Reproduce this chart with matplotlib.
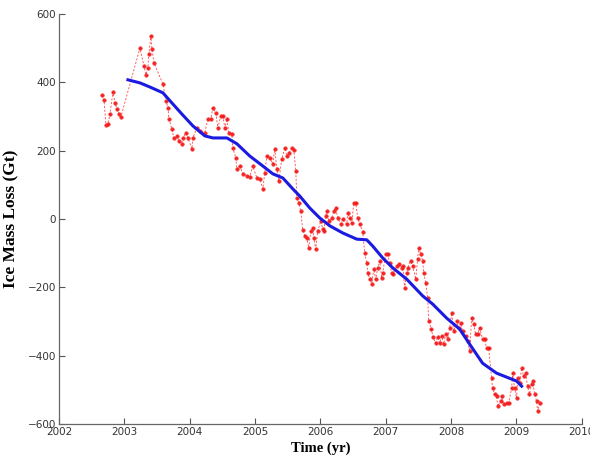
import matplotlib
matplotlib.use("Agg")
import matplotlib.pyplot as plt

# Monthly/10-day mass anomaly estimates (year, Gt)
obs_year = [
    2002.657, 2002.688, 2002.719, 2002.749, 2002.780, 2002.826, 2002.856, 2002.887, 2002.917, 2002.948,
    2003.239, 2003.300, 2003.330, 2003.360, 2003.376, 2003.407, 2003.422, 2003.453, 2003.590, 2003.636,
    2003.667, 2003.682, 2003.728, 2003.758, 2003.804, 2003.835, 2003.881, 2003.896, 2003.942, 2003.972,
    2004.034, 2004.049, 2004.110, 2004.156, 2004.232, 2004.278, 2004.324, 2004.355, 2004.400, 2004.431,
    2004.477, 2004.508, 2004.538, 2004.569, 2004.600, 2004.645, 2004.660, 2004.706, 2004.722, 2004.768,
    2004.813, 2004.875, 2004.920, 2004.966, 2005.028, 2005.073, 2005.119, 2005.150, 2005.180, 2005.226,
    2005.272, 2005.303, 2005.333, 2005.364, 2005.410, 2005.456, 2005.486, 2005.517, 2005.563, 2005.593,
    2005.624, 2005.639, 2005.670, 2005.700, 2005.730, 2005.761, 2005.792, 2005.823, 2005.853, 2005.884,
    2005.899, 2005.930, 2005.960, 2006.006, 2006.037, 2006.052, 2006.083, 2006.098, 2006.128, 2006.174,
    2006.205, 2006.235, 2006.266, 2006.312, 2006.343, 2006.404, 2006.419, 2006.450, 2006.480, 2006.511,
    2006.541, 2006.572, 2006.602, 2006.648, 2006.679, 2006.710, 2006.725, 2006.755, 2006.786, 2006.817,
    2006.847, 2006.878, 2006.908, 2006.939, 2006.954, 2007.000, 2007.030, 2007.061, 2007.092, 2007.107,
    2007.168, 2007.199, 2007.245, 2007.260, 2007.290, 2007.321, 2007.336, 2007.382, 2007.413, 2007.459,
    2007.489, 2007.505, 2007.535, 2007.566, 2007.581, 2007.612, 2007.642, 2007.657, 2007.700, 2007.720,
    2007.765, 2007.795, 2007.826, 2007.856, 2007.887, 2007.917, 2007.948, 2007.979, 2008.009, 2008.040,
    2008.086, 2008.116, 2008.147, 2008.177, 2008.223, 2008.254, 2008.284, 2008.315, 2008.346, 2008.376,
    2008.407, 2008.437, 2008.483, 2008.514, 2008.544, 2008.575, 2008.621, 2008.636, 2008.667, 2008.697,
    2008.713, 2008.758, 2008.774, 2008.804, 2008.850, 2008.881, 2008.927, 2008.942, 2008.972, 2009.003,
    2009.018, 2009.049, 2009.080, 2009.110, 2009.140, 2009.170, 2009.200, 2009.232, 2009.248, 2009.278,
    2009.309, 2009.324, 2009.355,
]
obs_mass = [
    362, 348, 275, 278, 307, 372, 340, 322, 307, 299,
    500, 448, 422, 442, 483, 536, 498, 457, 395, 346,
    325, 293, 263, 237, 243, 228, 220, 237, 252, 237,
    205, 237, 266, 258, 252, 293, 293, 325, 310, 266,
    302, 302, 266, 293, 252, 249, 208, 179, 146, 155,
    132, 126, 123, 155, 120, 117, 88, 135, 184, 179,
    161, 205, 146, 111, 176, 208, 184, 193, 208, 202,
    141, 61, 47, 23, -32, -50, -56, -85, -35, -26,
    -56, -88, -35, -6, -29, -35, 9, 23, -6, 3,
    23, 32, 3, -15, 0, -15, 18, 3, -12, 47,
    47, 3, -15, -38, -100, -129, -158, -176, -190, -146,
    -176, -143, -123, -173, -158, -102, -102, -129, -158, -161,
    -138, -132, -143, -138, -202, -158, -143, -123, -138, -176,
    -117, -85, -102, -123, -158, -187, -231, -299, -322, -345,
    -363, -345, -363, -343, -366, -337, -351, -319, -275, -328,
    -299, -319, -305, -328, -343, -357, -387, -290, -307, -337,
    -337, -319, -351, -351, -378, -378, -466, -495, -512, -518,
    -548, -533, -518, -542, -539, -539, -495, -451, -495, -524,
    -466, -480, -436, -460, -451, -489, -512, -483, -474, -512,
    -533, -562, -539,
]

# Smoothed trend (year, Gt)
trend_year = [
    2003.055, 2003.239, 2003.390, 2003.590, 2003.697, 2003.880, 2004.050, 2004.232, 2004.355, 2004.569,
    2004.722, 2004.920, 2005.119, 2005.272, 2005.425, 2005.578, 2005.685, 2005.838, 2005.990, 2006.144,
    2006.343, 2006.557, 2006.710, 2006.800, 2006.954, 2007.107, 2007.321, 2007.566, 2007.719, 2007.933,
    2008.131, 2008.284, 2008.483, 2008.697, 2008.896, 2009.003, 2009.080,
]
trend_mass = [
    407, 398, 386, 369, 346, 307, 272, 243, 237, 237,
    220, 184, 155, 132, 120, 88, 67, 32, 3, -20,
    -41, -59, -61, -79, -114, -143, -176, -225, -249, -290,
    -322, -366, -422, -451, -466, -474, -489,
]

x_ticks = [2002, 2003, 2004, 2005, 2006, 2007, 2008, 2009, 2010]
y_ticks = [-600, -400, -200, 0, 200, 400, 600]

fig = plt.figure(figsize=(5.9, 4.61), dpi=100)
ax = fig.add_axes([0.1, 0.080, 0.886, 0.890])

ax.plot(obs_year, obs_mass, color="#ff3030", linestyle=(0, (2.5, 2)), linewidth=0.6,
        marker="o", markersize=2.6, markerfacecolor="#ee1111", markeredgecolor="#ff3333",
        markeredgewidth=0.4, alpha=0.9, zorder=2)
ax.plot(trend_year, trend_mass, color="#1a1ae0", linewidth=2.2, zorder=3)

ax.set_xlim(2002, 2010)
ax.set_ylim(-600, 600)
ax.set_xticks(x_ticks)
ax.set_yticks(y_ticks)
ax.tick_params(direction="in", length=4, width=0.8, colors="#555555", labelsize=7.5,
               labelcolor="#333333", pad=2)

for s in ["top", "right"]:
    ax.spines[s].set_visible(False)
for s in ["left", "bottom"]:
    ax.spines[s].set_color("#666666")
    ax.spines[s].set_linewidth(0.9)

ax.set_xlabel("Time (yr)", fontfamily="Liberation Serif", fontweight="bold", fontsize=10.5,
              labelpad=3)
ax.set_ylabel("Ice Mass Loss (Gt)", fontfamily="Liberation Serif", fontweight="bold",
              fontsize=12.5, labelpad=6)

fig.savefig("out.png", dpi=100)
